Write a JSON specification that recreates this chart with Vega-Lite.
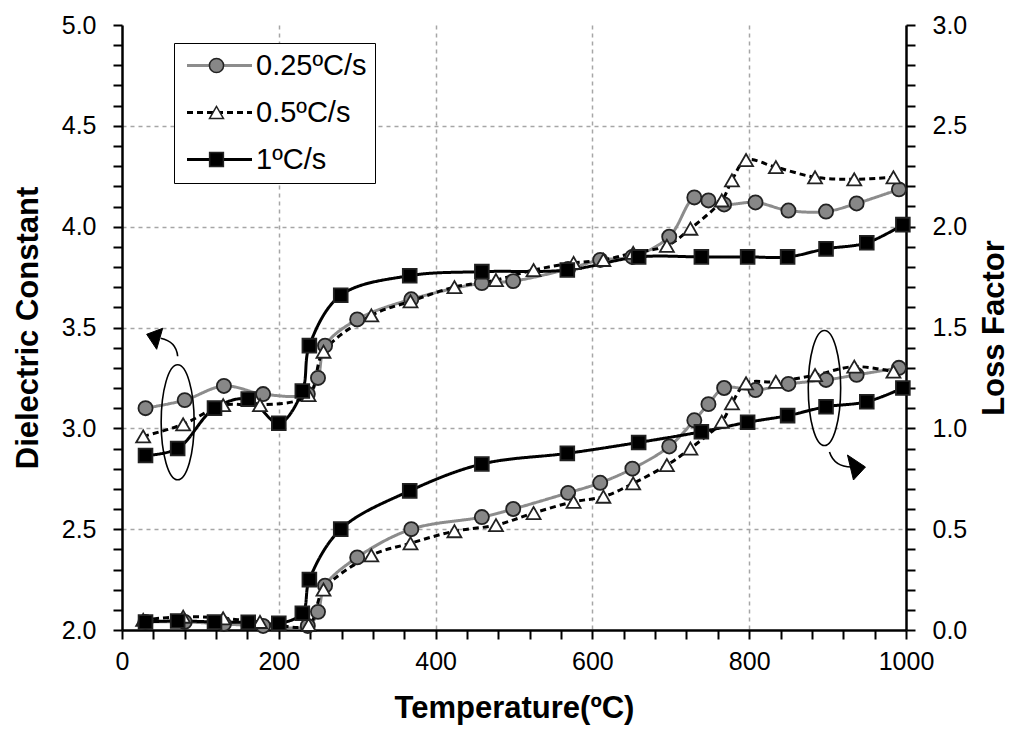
{
  "$schema": "https://vega.github.io/schema/vega-lite/v6.json",
  "autosize": "none",
  "width": 784,
  "height": 605,
  "padding": {"left": 122, "top": 25, "right": 118, "bottom": 104},
  "background": "white",
  "datasets": {
    "measurements": [
      {"series": "0.25ºC/s", "temperature": 30, "dielectric": 3.10, "loss": 0.04},
      {"series": "0.25ºC/s", "temperature": 80, "dielectric": 3.14, "loss": 0.04},
      {"series": "0.25ºC/s", "temperature": 130, "dielectric": 3.21, "loss": 0.03},
      {"series": "0.25ºC/s", "temperature": 180, "dielectric": 3.17, "loss": 0.02},
      {"series": "0.25ºC/s", "temperature": 237, "dielectric": 3.17, "loss": 0.02},
      {"series": "0.25ºC/s", "temperature": 250, "dielectric": 3.25, "loss": 0.09},
      {"series": "0.25ºC/s", "temperature": 259, "dielectric": 3.41, "loss": 0.22},
      {"series": "0.25ºC/s", "temperature": 300, "dielectric": 3.54, "loss": 0.36},
      {"series": "0.25ºC/s", "temperature": 369, "dielectric": 3.64, "loss": 0.50},
      {"series": "0.25ºC/s", "temperature": 459, "dielectric": 3.72, "loss": 0.56},
      {"series": "0.25ºC/s", "temperature": 499, "dielectric": 3.73, "loss": 0.60},
      {"series": "0.25ºC/s", "temperature": 569, "dielectric": 3.79, "loss": 0.68},
      {"series": "0.25ºC/s", "temperature": 610, "dielectric": 3.835, "loss": 0.73},
      {"series": "0.25ºC/s", "temperature": 651, "dielectric": 3.85, "loss": 0.80},
      {"series": "0.25ºC/s", "temperature": 698, "dielectric": 3.95, "loss": 0.91},
      {"series": "0.25ºC/s", "temperature": 730, "dielectric": 4.145, "loss": 1.04},
      {"series": "0.25ºC/s", "temperature": 748, "dielectric": 4.13, "loss": 1.12},
      {"series": "0.25ºC/s", "temperature": 768, "dielectric": 4.11, "loss": 1.20},
      {"series": "0.25ºC/s", "temperature": 808, "dielectric": 4.12, "loss": 1.19},
      {"series": "0.25ºC/s", "temperature": 850, "dielectric": 4.08, "loss": 1.22},
      {"series": "0.25ºC/s", "temperature": 898, "dielectric": 4.075, "loss": 1.24},
      {"series": "0.25ºC/s", "temperature": 937, "dielectric": 4.115, "loss": 1.265},
      {"series": "0.25ºC/s", "temperature": 991, "dielectric": 4.185, "loss": 1.30},
      {"series": "0.5ºC/s", "temperature": 27, "dielectric": 2.96, "loss": 0.05},
      {"series": "0.5ºC/s", "temperature": 78, "dielectric": 3.02, "loss": 0.066},
      {"series": "0.5ºC/s", "temperature": 129, "dielectric": 3.115, "loss": 0.058},
      {"series": "0.5ºC/s", "temperature": 176, "dielectric": 3.115, "loss": 0.04},
      {"series": "0.5ºC/s", "temperature": 238, "dielectric": 3.165, "loss": 0.025},
      {"series": "0.5ºC/s", "temperature": 257, "dielectric": 3.38, "loss": 0.20},
      {"series": "0.5ºC/s", "temperature": 318, "dielectric": 3.56, "loss": 0.37},
      {"series": "0.5ºC/s", "temperature": 368, "dielectric": 3.63, "loss": 0.43},
      {"series": "0.5ºC/s", "temperature": 424, "dielectric": 3.70, "loss": 0.49},
      {"series": "0.5ºC/s", "temperature": 477, "dielectric": 3.735, "loss": 0.52},
      {"series": "0.5ºC/s", "temperature": 525, "dielectric": 3.785, "loss": 0.58},
      {"series": "0.5ºC/s", "temperature": 576, "dielectric": 3.82, "loss": 0.636},
      {"series": "0.5ºC/s", "temperature": 614, "dielectric": 3.835, "loss": 0.661},
      {"series": "0.5ºC/s", "temperature": 652, "dielectric": 3.87, "loss": 0.727},
      {"series": "0.5ºC/s", "temperature": 695, "dielectric": 3.905, "loss": 0.818},
      {"series": "0.5ºC/s", "temperature": 725, "dielectric": 3.99, "loss": 0.90},
      {"series": "0.5ºC/s", "temperature": 765, "dielectric": 4.13, "loss": 1.033},
      {"series": "0.5ºC/s", "temperature": 778, "dielectric": 4.23, "loss": 1.124},
      {"series": "0.5ºC/s", "temperature": 796, "dielectric": 4.33, "loss": 1.223},
      {"series": "0.5ºC/s", "temperature": 834, "dielectric": 4.295, "loss": 1.231},
      {"series": "0.5ºC/s", "temperature": 884, "dielectric": 4.245, "loss": 1.264},
      {"series": "0.5ºC/s", "temperature": 934, "dielectric": 4.235, "loss": 1.306},
      {"series": "0.5ºC/s", "temperature": 984, "dielectric": 4.245, "loss": 1.281},
      {"series": "1ºC/s", "temperature": 30, "dielectric": 2.865, "loss": 0.04},
      {"series": "1ºC/s", "temperature": 71, "dielectric": 2.90, "loss": 0.045},
      {"series": "1ºC/s", "temperature": 118, "dielectric": 3.10, "loss": 0.04},
      {"series": "1ºC/s", "temperature": 161, "dielectric": 3.145, "loss": 0.038},
      {"series": "1ºC/s", "temperature": 200, "dielectric": 3.025, "loss": 0.033},
      {"series": "1ºC/s", "temperature": 230, "dielectric": 3.185, "loss": 0.083},
      {"series": "1ºC/s", "temperature": 239, "dielectric": 3.41, "loss": 0.25},
      {"series": "1ºC/s", "temperature": 279, "dielectric": 3.66, "loss": 0.50},
      {"series": "1ºC/s", "temperature": 367, "dielectric": 3.757, "loss": 0.69},
      {"series": "1ºC/s", "temperature": 459, "dielectric": 3.777, "loss": 0.823},
      {"series": "1ºC/s", "temperature": 568, "dielectric": 3.785, "loss": 0.876},
      {"series": "1ºC/s", "temperature": 659, "dielectric": 3.85, "loss": 0.93},
      {"series": "1ºC/s", "temperature": 739, "dielectric": 3.85, "loss": 0.983},
      {"series": "1ºC/s", "temperature": 798, "dielectric": 3.85, "loss": 1.03},
      {"series": "1ºC/s", "temperature": 849, "dielectric": 3.85, "loss": 1.063},
      {"series": "1ºC/s", "temperature": 898, "dielectric": 3.89, "loss": 1.107},
      {"series": "1ºC/s", "temperature": 950, "dielectric": 3.92, "loss": 1.132},
      {"series": "1ºC/s", "temperature": 996, "dielectric": 4.01, "loss": 1.20}
    ],
    "annotations": [
      {"side": "left", "temperature": 71, "level": 3.03},
      {"side": "right", "temperature": 896, "level": 3.2}
    ]
  },
  "layer": [
    {
      "data": {"name": "measurements"},
      "mark": {"type": "line", "interpolate": "catmull-rom", "strokeWidth": 3},
      "encoding": {
        "x": {"field": "temperature", "type": "quantitative",
          "scale": {"domain": [0, 1000], "nice": false, "zero": false},
          "axis": {"orient": "bottom", "values": [0, 40, 80, 120, 160, 200, 240, 280, 320, 360, 400, 440, 480, 520, 560, 600, 640, 680, 720, 760, 800, 840, 880, 920, 960, 1000],
            "format": "d", "labelExpr": "datum.value % 200 === 0 ? datum.label : ''", "labelOverlap": false, "labelFlush": false,
            "title": "Temperature(ºC)",
            "grid": true, "gridDash": [4, 4], "gridColor": "#a6a6a6", "gridWidth": 1.5,
            "gridOpacity": {"condition": {"test": "datum.value % 200 !== 0 || datum.value <= 0 || datum.value >= 1000", "value": 0}, "value": 1},
            "tickSize": 9, "labelPadding": 10, "titlePadding": 19,
            "encode": {"ticks": {"update": {"y2": {"signal": "datum.value % 200 === 0 ? 9 : -7"}}}}}},
        "y": {"field": "dielectric", "type": "quantitative",
          "scale": {"domain": [2, 5], "nice": false, "zero": false},
          "axis": {"orient": "left", "values": [2, 2.1, 2.2, 2.3, 2.4, 2.5, 2.6, 2.7, 2.8, 2.9, 3, 3.1, 3.2, 3.3, 3.4, 3.5, 3.6, 3.7, 3.8, 3.9, 4, 4.1, 4.2, 4.3, 4.4, 4.5, 4.6, 4.7, 4.8, 4.9, 5],
            "format": ".1f", "labelExpr": "abs(datum.value * 2 - round(datum.value * 2)) < 0.01 ? datum.label : ''", "labelOverlap": false, "labelFlush": false,
            "title": "Dielectric Constant",
            "grid": true, "gridDash": [4, 4], "gridColor": "#a6a6a6", "gridWidth": 1.5,
            "gridOpacity": {"condition": {"test": "abs(datum.value * 2 - round(datum.value * 2)) > 0.01 || datum.value < 2.01 || datum.value > 4.99", "value": 0}, "value": 1},
            "tickSize": 9, "labelPadding": 17, "titlePadding": 17,
            "encode": {"ticks": {"update": {"x2": {"signal": "abs(datum.value * 2 - round(datum.value * 2)) < 0.01 ? -9 : 7"}}}}}},
        "stroke": {"field": "series", "type": "nominal",
          "scale": {"domain": ["0.25ºC/s", "0.5ºC/s", "1ºC/s"], "range": ["#8c8c8c", "black", "black"]},
          "legend": {"title": null, "orient": "none", "legendX": 52, "legendY": 18, "padding": 8, "rowPadding": 17,
            "symbolType": "M-5,0H5", "symbolSize": 169, "symbolStrokeWidth": 3, "symbolOffset": 23, "labelOffset": 22,
            "strokeColor": "black", "fillColor": "white", "zindex": 1}},
        "strokeDash": {"field": "series", "type": "nominal",
          "scale": {"domain": ["0.25ºC/s", "0.5ºC/s", "1ºC/s"], "range": [[1, 0], [6, 4], [1, 0]]},
          "legend": {"title": null, "orient": "none", "legendX": 52, "legendY": 18, "padding": 8, "rowPadding": 17,
            "symbolType": "M-5,0H5", "symbolSize": 169, "symbolStrokeWidth": 3, "symbolOffset": 23, "labelOffset": 22,
            "strokeColor": "black", "fillColor": "white", "zindex": 1}}
      }
    },
    {
      "data": {"name": "measurements"},
      "mark": {"type": "line", "interpolate": "catmull-rom", "strokeWidth": 3},
      "encoding": {
        "x": {"field": "temperature", "type": "quantitative",
          "scale": {"domain": [0, 1000], "nice": false, "zero": false}, "axis": null},
        "y": {"field": "loss", "type": "quantitative",
          "scale": {"domain": [0, 3], "nice": false, "zero": false},
          "axis": {"orient": "right", "values": [0, 0.1, 0.2, 0.3, 0.4, 0.5, 0.6, 0.7, 0.8, 0.9, 1, 1.1, 1.2, 1.3, 1.4, 1.5, 1.6, 1.7, 1.8, 1.9, 2, 2.1, 2.2, 2.3, 2.4, 2.5, 2.6, 2.7, 2.8, 2.9, 3],
            "format": ".1f", "labelExpr": "abs(datum.value * 2 - round(datum.value * 2)) < 0.01 ? datum.label : ''", "labelOverlap": false, "labelFlush": false,
            "title": "Loss Factor", "titleAngle": 270, "titleBaseline": "top",
            "grid": false, "tickSize": 9, "labelPadding": 17, "titlePadding": 13,
            "encode": {"ticks": {"update": {"x2": {"signal": "abs(datum.value * 2 - round(datum.value * 2)) < 0.01 ? 9 : -7"}}}}}},
        "stroke": {"field": "series", "type": "nominal",
          "scale": {"domain": ["0.25ºC/s", "0.5ºC/s", "1ºC/s"], "range": ["#8c8c8c", "black", "black"]},
          "legend": {"title": null, "orient": "none", "legendX": 52, "legendY": 18, "padding": 8, "rowPadding": 17,
            "symbolType": "M-5,0H5", "symbolSize": 169, "symbolStrokeWidth": 3, "symbolOffset": 23, "labelOffset": 22,
            "strokeColor": "black", "fillColor": "white", "zindex": 1}},
        "strokeDash": {"field": "series", "type": "nominal",
          "scale": {"domain": ["0.25ºC/s", "0.5ºC/s", "1ºC/s"], "range": [[1, 0], [6, 4], [1, 0]]},
          "legend": {"title": null, "orient": "none", "legendX": 52, "legendY": 18, "padding": 8, "rowPadding": 17,
            "symbolType": "M-5,0H5", "symbolSize": 169, "symbolStrokeWidth": 3, "symbolOffset": 23, "labelOffset": 22,
            "strokeColor": "black", "fillColor": "white", "zindex": 1}}
      }
    },
    {
      "data": {"name": "measurements"},
      "mark": {"type": "point", "filled": true, "opacity": 1, "stroke": "#222222", "strokeWidth": 1.8},
      "encoding": {
        "x": {"field": "temperature", "type": "quantitative",
          "scale": {"domain": [0, 1000], "nice": false, "zero": false}, "axis": null},
        "y": {"field": "dielectric", "type": "quantitative",
          "scale": {"domain": [2, 5], "nice": false, "zero": false}, "axis": null},
        "shape": {"field": "series", "type": "nominal",
          "scale": {"range": ["circle", "triangle-up", "square"]},
          "legend": {"title": null, "orient": "none", "legendX": 72, "legendY": 18, "padding": 8, "rowPadding": 17,
            "labelOffset": 8, "labelOpacity": 0, "zindex": 2,
            "encode": {"symbols": {"update": {"stroke": {"value": "#222222"}, "strokeWidth": {"value": 1.8}}}}}},
        "fill": {"field": "series", "type": "nominal",
          "scale": {"range": ["#878787", "white", "black"]},
          "legend": {"title": null, "orient": "none", "legendX": 72, "legendY": 18, "padding": 8, "rowPadding": 17,
            "labelOffset": 8, "labelOpacity": 0, "zindex": 2,
            "encode": {"symbols": {"update": {"stroke": {"value": "#222222"}, "strokeWidth": {"value": 1.8}}}}}},
        "size": {"field": "series", "type": "nominal",
          "scale": {"range": [200, 190, 170]},
          "legend": {"title": null, "orient": "none", "legendX": 72, "legendY": 18, "padding": 8, "rowPadding": 17,
            "labelOffset": 8, "labelOpacity": 0, "zindex": 2,
            "encode": {"symbols": {"update": {"stroke": {"value": "#222222"}, "strokeWidth": {"value": 1.8}}}}}}
      }
    },
    {
      "data": {"name": "measurements"},
      "mark": {"type": "point", "filled": true, "opacity": 1, "stroke": "#222222", "strokeWidth": 1.8},
      "encoding": {
        "x": {"field": "temperature", "type": "quantitative",
          "scale": {"domain": [0, 1000], "nice": false, "zero": false}, "axis": null},
        "y": {"field": "loss", "type": "quantitative",
          "scale": {"domain": [0, 3], "nice": false, "zero": false}, "axis": null},
        "shape": {"field": "series", "type": "nominal",
          "scale": {"range": ["circle", "triangle-up", "square"]},
          "legend": {"title": null, "orient": "none", "legendX": 72, "legendY": 18, "padding": 8, "rowPadding": 17,
            "labelOffset": 8, "labelOpacity": 0, "zindex": 2,
            "encode": {"symbols": {"update": {"stroke": {"value": "#222222"}, "strokeWidth": {"value": 1.8}}}}}},
        "fill": {"field": "series", "type": "nominal",
          "scale": {"range": ["#878787", "white", "black"]},
          "legend": {"title": null, "orient": "none", "legendX": 72, "legendY": 18, "padding": 8, "rowPadding": 17,
            "labelOffset": 8, "labelOpacity": 0, "zindex": 2,
            "encode": {"symbols": {"update": {"stroke": {"value": "#222222"}, "strokeWidth": {"value": 1.8}}}}}},
        "size": {"field": "series", "type": "nominal",
          "scale": {"range": [200, 190, 170]},
          "legend": {"title": null, "orient": "none", "legendX": 72, "legendY": 18, "padding": 8, "rowPadding": 17,
            "labelOffset": 8, "labelOpacity": 0, "zindex": 2,
            "encode": {"symbols": {"update": {"stroke": {"value": "#222222"}, "strokeWidth": {"value": 1.8}}}}}}
      }
    },
    {
      "data": {"name": "annotations"},
      "transform": [{"filter": "datum.side === 'left'"}],
      "mark": {"type": "point", "size": 4, "filled": false, "opacity": 1, "stroke": "black", "strokeWidth": 1.6,
        "shape": "M0,-57.5 C9.1,-57.5 16.5,-31.8 16.5,0 C16.5,31.8 9.1,57.5 0,57.5 C-9.1,57.5 -16.5,31.8 -16.5,0 C-16.5,-31.8 -9.1,-57.5 0,-57.5 Z M0,-66 C-1,-76 -7,-82 -17,-84"},
      "encoding": {
        "x": {"field": "temperature", "type": "quantitative",
          "scale": {"domain": [0, 1000], "nice": false, "zero": false}, "axis": null},
        "y": {"field": "level", "type": "quantitative",
          "scale": {"domain": [2, 5], "nice": false, "zero": false}, "axis": null}
      }
    },
    {
      "data": {"name": "annotations"},
      "transform": [{"filter": "datum.side === 'left'"}],
      "mark": {"type": "point", "size": 4, "filled": true, "opacity": 1, "fill": "black", "stroke": "black", "strokeWidth": 1,
        "shape": "M-31,-88 L-15,-94 L-21,-73 Z"},
      "encoding": {
        "x": {"field": "temperature", "type": "quantitative",
          "scale": {"domain": [0, 1000], "nice": false, "zero": false}, "axis": null},
        "y": {"field": "level", "type": "quantitative",
          "scale": {"domain": [2, 5], "nice": false, "zero": false}, "axis": null}
      }
    },
    {
      "data": {"name": "annotations"},
      "transform": [{"filter": "datum.side === 'right'"}],
      "mark": {"type": "point", "size": 4, "filled": false, "opacity": 1, "stroke": "black", "strokeWidth": 1.6,
        "shape": "M0,-57.5 C9,-57.5 16.2,-31.8 16.2,0 C16.2,31.8 9,57.5 0,57.5 C-9,57.5 -16.2,31.8 -16.2,0 C-16.2,-31.8 -9,-57.5 0,-57.5 Z M5,64 C8,73 15,79 27,79"},
      "encoding": {
        "x": {"field": "temperature", "type": "quantitative",
          "scale": {"domain": [0, 1000], "nice": false, "zero": false}, "axis": null},
        "y": {"field": "level", "type": "quantitative",
          "scale": {"domain": [2, 5], "nice": false, "zero": false}, "axis": null}
      }
    },
    {
      "data": {"name": "annotations"},
      "transform": [{"filter": "datum.side === 'right'"}],
      "mark": {"type": "point", "size": 4, "filled": true, "opacity": 1, "fill": "black", "stroke": "black", "strokeWidth": 1,
        "shape": "M41,79 L23,67 L29,92 Z"},
      "encoding": {
        "x": {"field": "temperature", "type": "quantitative",
          "scale": {"domain": [0, 1000], "nice": false, "zero": false}, "axis": null},
        "y": {"field": "level", "type": "quantitative",
          "scale": {"domain": [2, 5], "nice": false, "zero": false}, "axis": null}
      }
    }
  ],
  "resolve": {
    "scale": {"y": "independent"},
    "axis": {"x": "independent", "y": "independent"}
  },
  "config": {
    "view": {"stroke": null},
    "font": "Liberation Sans",
    "axis": {
      "labelFont": "Liberation Sans", "labelFontSize": 25, "labelColor": "black",
      "titleFont": "Liberation Sans", "titleFontSize": 31, "titleFontWeight": "bold", "titleColor": "black",
      "domainColor": "black", "domainWidth": 2.5, "tickColor": "black", "tickWidth": 2
    },
    "legend": {"labelFont": "Liberation Sans", "labelFontSize": 29, "labelColor": "black"}
  }
}
